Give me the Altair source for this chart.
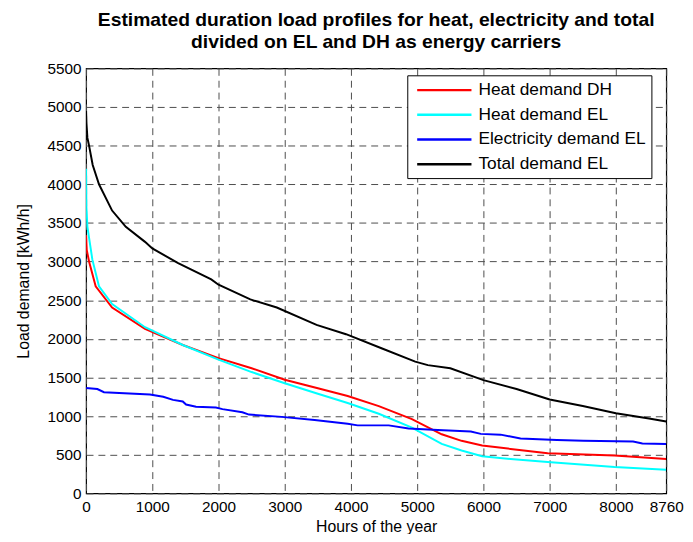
import altair as alt
import pandas as pd

# ---- data ----
series_names = ["Heat demand DH", "Heat demand EL", "Electricity demand EL", "Total demand EL"]
series_colors = ["#ff0000", "#00ffff", "#0000ff", "#000000"]

heat_dh_h = [0, 10, 45, 145, 393, 890, 1460, 2000, 2500, 3000, 3500, 3950, 4420, 4920, 5370, 5670, 5980, 6410, 6970, 7980, 8760]
heat_dh_v = [3340, 3150, 3000, 2680, 2405, 2130, 1920, 1750, 1620, 1470, 1360, 1260, 1130, 960, 765, 680, 620, 575, 520, 490, 445]

heat_el_h = [0, 5, 20, 95, 195, 393, 890, 1460, 2000, 2500, 3000, 3500, 3950, 4420, 4920, 5370, 5670, 5980, 6410, 6970, 7980, 8760]
heat_el_v = [4200, 3700, 3450, 3025, 2680, 2450, 2150, 1920, 1730, 1570, 1425, 1290, 1170, 1030, 850, 640, 555, 480, 445, 405, 340, 305]

elec_el_h = [0, 170, 270, 965, 1165, 1313, 1460, 1510, 1660, 1960, 2060, 2360, 2460, 2955, 3450, 3950, 4100, 4570, 4870, 5310, 5810, 5960, 6260, 6560, 7110, 7510, 8260, 8400, 8760]
elec_el_v = [1365, 1350, 1310, 1280, 1250, 1210, 1190, 1150, 1120, 1110, 1090, 1050, 1020, 990, 950, 900, 880, 880, 840, 820, 800, 770, 760, 710, 690, 680, 670, 645, 640]

total_el_h = [0, 5, 20, 45, 100, 195, 393, 600, 890, 1000, 1390, 1890, 2000, 2480, 2880, 3480, 3925, 4470, 4970, 5160, 5500, 6000, 6500, 7000, 7500, 8000, 8500, 8760]
total_el_v = [4950, 4800, 4600, 4500, 4250, 4000, 3660, 3450, 3255, 3170, 2980, 2770, 2700, 2510, 2405, 2180, 2060, 1875, 1705, 1660, 1620, 1465, 1350, 1215, 1130, 1037, 970, 930]

x_ticks = [0, 1000, 2000, 3000, 4000, 5000, 6000, 7000, 8000, 8760]
y_ticks = list(range(0, 5501, 500))

rows = []
for name, hs, vs in [
    (series_names[0], heat_dh_h, heat_dh_v),
    (series_names[1], heat_el_h, heat_el_v),
    (series_names[2], elec_el_h, elec_el_v),
    (series_names[3], total_el_h, total_el_v),
]:
    for i, (h, v) in enumerate(zip(hs, vs)):
        rows.append({"series": name, "hours": h, "load": v, "i": i})
df = pd.DataFrame(rows)

FONT = "Liberation Sans"

chart = (
    alt.Chart(df)
    .mark_line(strokeWidth=2, clip=True)
    .encode(
        x=alt.X(
            "hours:Q",
            scale=alt.Scale(domain=[0, 8760], nice=False, zero=False),
            axis=alt.Axis(
                title="Hours of the year",
                values=x_ticks,
                format="d",
                grid=True,
                ticks=False,
                domain=False,
                labelPadding=6,
                titlePadding=4,
                labelFlush=False,
            ),
        ),
        y=alt.Y(
            "load:Q",
            scale=alt.Scale(domain=[0, 5500], nice=False),
            axis=alt.Axis(
                title="Load demand [kWh/h]",
                values=y_ticks,
                format="d",
                grid=True,
                ticks=False,
                domain=False,
                labelPadding=5,
                titlePadding=16,
                labelFlush=False,
            ),
        ),
        color=alt.Color(
            "series:N",
            scale=alt.Scale(domain=series_names, range=series_colors),
            legend=alt.Legend(
                title=None,
                orient="none",
                legendX=325,
                legendY=7,
                symbolType="M-0.57,0H5.71",
                symbolSize=306,
                symbolStrokeWidth=2.5,
                symbolFillColor="transparent",
                labelFontSize=17.5,
                labelFont=FONT,
                labelColor="#000000",
                labelLimit=400,
                labelOffset=47,
                rowPadding=6,
                padding=5,
                strokeColor="#000000",
                fillColor="#ffffff",
            ),
        ),
        order="i:Q",
    )
    .properties(
        width=587,
        height=430,
        autosize=alt.AutoSizeParams(type="none"),
        padding={"left": 79, "top": 58, "right": 19, "bottom": 38},
        title=alt.TitleParams(
            ["Estimated duration load profiles for heat, electricity and total",
             "divided on EL and DH as energy carriers"],
            fontSize=19.5,
            fontWeight="bold",
            font=FONT,
            color="#000000",
            anchor="middle",
            lineHeight=22,
            offset=9,
        ),
    )
    .configure_view(stroke="#000000", strokeWidth=1.2)
    .configure_axis(
        labelFont=FONT,
        titleFont=FONT,
        labelFontSize=15.5,
        titleFontSize=16,
        titleFontWeight="normal",
        labelColor="#000000",
        titleColor="#000000",
        gridColor="#4d4d4d",
        gridDash=[7, 5],
        gridWidth=1,
        gridOpacity=1,
    )
)

chart.save("out.html", embed_options={"renderer": "svg", "actions": False})
